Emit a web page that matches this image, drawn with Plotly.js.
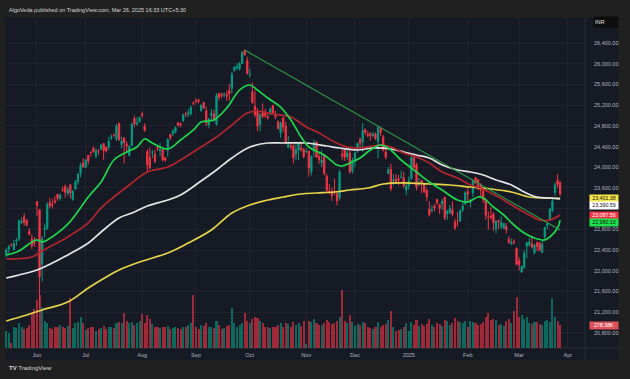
<!DOCTYPE html>
<html><head><meta charset="utf-8">
<script src="https://cdn.plot.ly/plotly-3.0.1.min.js"></script>
<style>html,body{margin:0;padding:0;background:#202020;}#chart{width:630px;height:379px;}</style>
</head><body><div id="chart"></div>
<script>
// ---- Bar index ticks (trading days) ----
const monthTickIdx = [12,31,53,74,95,117,136,157,180,200,219];
const monthTickText = ["Jun","Jul","Aug","Sep","Oct","Nov","Dec","2025","Feb","Mar","Apr"];
const priceTicks = [20800,21200,21600,22000,22400,22800,23200,23600,24000,24400,24800,25200,25600,26000,26400];
// tick hidden behind the price labels on the scale
const hiddenTick = 23200;

// ---- OHLC (daily, 16 May 2024 – 26 Mar 2025) ----
const openP = [
22300,22415,22513,22405,22576,22614,22931,23038,22977,22763,22618,22568,
23337,23179,22128,22798,22821,23319,23283,23345,23480,23399,23570,23629,23499,23661,23382,23578,23723,23881,24085,
23993,24229,24291,24369,24213,24330,24351,24459,24387,24388,24573,24615,24544,24854,24445,24568,24445,24231,24424,24943,24839,24887,
25030,24789,24302,24189,24289,24248,24386,24321,24342,24184,24334,24637,24648,24680,24864,24846,24906,25025,25030,25035,25250,
25283,25301,25089,25250,25093,24823,24999,25035,24837,25430,25406,25416,25402,25487,25526,25872,25921,25899,26005,26248,26061,
25788,25453,25181,25085,24832,25066,25067,24985,25023,25186,25008,24882,24664,24956,24798,24379,24412,24418,24252,24328,24371,24349,
24302,24316,23917,24308,24489,24207,24087,24225,23822,23543,23533,23529,23488,23412,24253,24340,24205,24274,23927,
24141,24368,24539,24489,24729,24633,24652,24615,24642,24498,24753,24584,24297,23877,23960,23739,23770,23775,23801,23796,23560,
23638,23783,24196,24045,23679,23746,23674,23551,23195,23165,23250,23377,23277,23290,23421,23099,23128,23183,22941,22961,22961,23169,23297,
23528,23319,23509,23802,23761,23649,23543,23384,23050,23055,23097,22809,22963,22847,22821,22857,22609,22516,22568,22433,
22194,21974,22073,22476,22508,22521,22345,22537,22541,22353,22662,22874,22981,23168,23515,23751,23700];
const highP = [
22432,22502,22525,22591,22630,22993,23026,23111,22998,22825,22705,22653,
23338,23179,22670,22910,23320,23411,23389,23441,23481,23490,23630,23665,23624,23668,23558,23754,23889,24087,24174,
24164,24236,24309,24401,24364,24345,24443,24461,24402,24592,24636,24662,24837,24855,24595,24582,24504,24426,24861,24999,24971,24984,
25078,24851,24350,24382,24337,24340,24419,24473,24359,24196,24563,24638,24734,24787,24867,24858,25043,25074,25129,25192,25268,
25333,25321,25217,25261,25168,24957,25130,25113,25434,25433,25445,25441,25482,25611,25849,25957,26011,26033,26251,26277,26135,
25907,25639,25485,25144,25044,25234,25135,25028,25159,25212,25093,24907,24886,24978,24882,24605,24480,24441,24493,24485,24499,24372,
24368,24317,24229,24537,24503,24276,24336,24243,23873,23675,23606,23781,23507,23956,24351,24343,24354,24345,24188,
24301,24481,24574,24857,24751,24705,24677,24691,24675,24793,24781,24624,24394,24005,24066,23869,23867,23854,23938,23915,23690,
23822,24226,24196,24089,23795,23751,23689,23596,23340,23264,23293,23391,23292,23391,23426,23170,23270,23347,23008,23137,23184,23323,23546,
23632,23381,23762,23807,23773,23694,23568,23390,23144,23235,23133,22974,22992,23050,22923,22922,22668,22625,22613,22450,
22261,22106,22395,22556,22633,22677,22522,22578,22558,22577,22857,22941,23216,23402,23709,23869,23737];
const lowP = [
22262,22345,22470,22404,22483,22577,22908,22871,22858,22685,22417,22465,
23062,21281,21791,22642,22789,23207,23206,23295,23354,23353,23528,23413,23450,23398,23351,23563,23670,23806,23985,
23993,24056,24207,24281,24168,24240,24331,24142,24285,24331,24522,24587,24505,24508,24362,24074,24307,24211,24410,24774,24799,24856,
24956,24686,23893,23960,24184,24079,24311,24213,24116,24099,24205,24522,24607,24654,24784,24771,24874,24973,24965,24998,25199,
25235,25235,25083,25130,24801,24753,24896,24885,24802,25293,25336,25352,25286,25286,25426,25847,25886,25871,25998,26152,25794,
25739,25230,24967,24695,24694,24947,24956,24920,25017,25008,24929,24728,24567,24679,24446,24378,24341,24074,24140,24141,24307,24172,
24280,23817,23843,24204,24179,24066,24004,23839,23509,23484,23350,23464,23263,23359,24135,24125,24145,23874,23874,
24008,24280,24366,24295,24620,24580,24511,24583,24527,24180,24601,24303,24150,23870,23538,23647,23685,23654,23800,23599,23460,
23562,23751,23976,23551,23637,23497,23503,23344,23047,23134,23146,23273,23100,23170,22977,22981,23090,23050,22786,22857,22944,23140,23271,
23318,23222,23424,23680,23556,23443,23316,22986,22798,22992,22774,22725,22801,22814,22812,22720,22518,22513,22508,22104,
22005,21964,22035,22245,22464,22429,22315,22377,22377,22353,22599,22806,22973,23132,23451,23601,23452];
const closeP = [
22403,22466,22502,22529,22597,22967,22957,22932,22888,22704,22488,22531,
23264,21884,22620,22821,23290,23259,23264,23323,23399,23465,23557,23516,23567,23501,23538,23721,23868,24044,24010,
24141,24124,24286,24302,24323,24320,24433,24324,24316,24502,24587,24613,24801,24531,24509,24479,24414,24406,24835,24836,24857,24951,
25011,24718,24056,23993,24297,24117,24368,24347,24139,24144,24541,24573,24698,24770,24811,24823,25010,25017,25052,25151,25236,
25279,25279,25198,25145,24852,24936,25041,24918,25389,25357,25383,25418,25377,25416,25791,25939,25940,26004,26216,26179,25811,
25797,25250,25015,24796,25013,24982,24998,24964,25128,25057,24971,24750,24854,24781,24472,24435,24399,24181,24339,24467,24341,24205,
24304,23995,24213,24484,24199,24148,24141,23883,23559,23532,23453,23518,23349,23907,24222,24194,24275,23914,24131,
24276,24457,24467,24708,24677,24619,24610,24641,24549,24768,24668,24336,24198,23952,23587,23753,23727,23750,23813,23645,23644,
23742,24188,24004,23616,23707,23688,23526,23431,23085,23176,23213,23311,23203,23344,23025,23155,23205,23092,22829,22957,23163,23249,23508,
23482,23361,23739,23696,23603,23560,23381,23071,23045,23031,22929,22959,22945,22933,22913,22796,22553,22547,22545,22125,
22119,22083,22337,22545,22552,22460,22497,22470,22397,22509,22834,22907,23190,23350,23658,23668,23486];
// volume, thousands
const volumeK = [
210,180,60,250,240,300,260,230,240,280,420,470,
580,640,500,330,300,240,230,260,250,280,260,240,270,610,240,300,320,380,300,
220,240,260,250,210,230,240,270,230,260,250,240,300,320,300,420,330,300,320,280,300,330,
410,300,400,350,290,260,250,240,260,250,270,230,240,250,240,230,260,250,280,300,640,
260,230,280,270,300,250,260,240,330,280,230,240,270,280,480,300,250,280,300,420,330,
300,350,380,360,330,300,260,250,240,260,250,280,300,260,300,290,260,310,280,300,270,330,
50,330,310,350,300,280,280,300,340,310,290,300,330,380,700,330,300,400,320,
270,290,280,320,300,250,240,230,250,320,250,280,290,340,450,250,210,220,230,260,300,
200,320,280,340,270,290,270,290,350,280,260,300,290,270,340,330,280,300,360,330,310,300,330,
250,330,320,300,280,290,320,380,420,340,350,340,280,290,270,330,350,300,450,620,
380,400,350,370,300,290,320,310,290,280,330,340,320,600,380,330,278.38];

// ---- Moving averages ----
const ma20Idx = [0,5,10,12,14,16,24,32,37,42,47,51,54,57,63,68,73,76,81,86,91,95,98,102,107,111,115,118,124,129,131,134,138,142,146,149,154,160,165,170,176,180,184,186,190,194,198,202,206,210,212,215,216];
const ma20Val = [22306,22383,22557,22596,22557,22596,22900,23426,23716,24141,24296,24392,24547,24469,24353,24527,24721,24875,24914,25146,25493,25590,25493,25339,25165,24914,24585,24392,24238,24044,24025,24083,24180,24334,24431,24373,24141,23909,23716,23561,23368,23330,23426,23407,23233,23078,22885,22731,22634,22596,22653,22827,22980];
const ma50Idx = [0,10,14,24,32,37,42,49,55,63,68,76,82,88,94,98,104,111,117,122,128,133,138,143,147,151,155,160,165,170,176,181,185,189,194,199,204,208,212,216];
const ma50Val = [22228,22267,22383,22653,22924,23214,23426,23697,23909,24006,24141,24392,24585,24817,25049,25088,25030,24972,24779,24663,24489,24392,24373,24411,24431,24373,24276,24199,24083,23909,23793,23658,23600,23503,23368,23214,23078,22982,22982,23078];
const ma100Idx = [0,5,13,24,32,37,44,49,55,63,68,76,82,88,95,102,108,117,125,130,137,143,150,155,160,165,170,176,181,186,191,197,202,207,212,216];
const ma100Val = [21861,21919,22035,22306,22537,22750,23020,23117,23252,23368,23465,23735,23948,24180,24392,24469,24469,24469,24411,24373,24334,24373,24353,24296,24238,24180,24044,23948,23909,23851,23755,23658,23523,23426,23407,23391];
const ma200Idx = [0,8,14,24,32,39,44,52,63,71,80,88,95,102,108,115,121,128,134,141,147,154,165,173,181,189,197,204,209,216];
const ma200Val = [21030,21146,21243,21397,21668,21881,22016,22170,22344,22537,22788,23117,23272,23368,23426,23484,23503,23523,23561,23600,23677,23697,23677,23658,23619,23581,23523,23426,23407,23401];

// trend line drawn on the chart
const trendIdx = [93, 216];
const trendVal = [26265, 22790];

// price labels on scale
const labelTexts = ["23,401.38","23,390.59","23,087.56","22,980.10","278.38K"];

const idx = closeP.map((_, i) => i);
const UP = '#089981', DN = '#f23645';
const volColors = closeP.map((c, i) => c >= openP[i] ? 'rgba(8,153,129,0.62)' : 'rgba(242,54,69,0.62)');

const traces = [
  {type:'bar', x: idx, y: volumeK, marker:{color: volColors, line:{width:0}}, width:0.8, yaxis:'y', xaxis:'x', hoverinfo:'skip'},
  {type:'scatter', mode:'lines', x: ma200Idx, y: ma200Val, yaxis:'y2', line:{color:'#e5d54a', width:1.7, shape:'spline'}},
  {type:'scatter', mode:'lines', x: ma100Idx, y: ma100Val, yaxis:'y2', line:{color:'#e4e4e4', width:1.7, shape:'spline'}},
  {type:'scatter', mode:'lines', x: ma50Idx, y: ma50Val, yaxis:'y2', line:{color:'#b3262f', width:1.7, shape:'spline'}},
  {type:'candlestick', x: idx, open: openP, high: highP, low: lowP, close: closeP, yaxis:'y2',
   increasing:{line:{color:UP, width:1}, fillcolor:UP}, decreasing:{line:{color:DN, width:1}, fillcolor:DN}, whiskerwidth:0},
  {type:'scatter', mode:'lines', x: ma20Idx, y: ma20Val, yaxis:'y2', line:{color:'#1fd64c', width:1.7, shape:'spline'}},
  {type:'scatter', mode:'lines', x: trendIdx, y: trendVal, yaxis:'y2', line:{color:'#2e9d48', width:1.1}}
];

const tickFont = {family:'Liberation Sans, Arial, sans-serif', size:5.5, color:'#b2b5be'};
const gridC = 'rgba(255,255,255,0.045)';
const priceTickText = priceTicks.map(v => v === hiddenTick ? '' : v.toLocaleString('en-US',{minimumFractionDigits:2, maximumFractionDigits:2}));

function lab(text, ypx, bg, fg) {
  return {xref:'paper', yref:'paper', x:1.0075, y:(348-ypx)/330, xanchor:'left', yanchor:'middle',
    text:text, showarrow:false, bgcolor:bg, borderpad:0, width:28, height:6.5, align:'center',
    font:{family:'Liberation Sans, Arial, sans-serif', size:5.3, color:fg}};
}

const layout = {
  width:630, height:379,
  margin:{l:5, r:45, t:18, b:31, pad:0},
  paper_bgcolor:'#202020', plot_bgcolor:'#161a25',
  showlegend:false, bargap:0,
  font:{family:'Liberation Sans, Arial, sans-serif'},
  xaxis:{range:[-0.47, 225.7], tickmode:'array', tickvals: monthTickIdx, ticktext: monthTickText,
    showgrid:true, gridcolor:gridC, zeroline:false, showline:false, ticks:'', tickfont:tickFont,
    rangeslider:{visible:false}, fixedrange:true, ticklabelstandoff:2},
  yaxis:{range:[0, 3994], visible:false, showgrid:false, zeroline:false, fixedrange:true},
  yaxis2:{overlaying:'y', side:'right', range:[20508, 26885], tickmode:'array', tickvals: priceTicks, ticktext: priceTickText,
    showgrid:true, gridcolor:gridC, zeroline:false, showline:false, ticks:'', tickfont:tickFont, fixedrange:true, ticklabelstandoff:8},
  shapes:[
    {type:'rect', xref:'paper', yref:'paper', x0:0, x1:1.0569, y0:-0.0364, y1:1, fillcolor:'#161a25', line:{width:0}, layer:'below'},
    {type:'line', xref:'paper', yref:'paper', x0:1, x1:1, y0:-0.0364, y1:1, line:{color:'#252a36', width:1}, layer:'below'},
    {type:'line', xref:'paper', yref:'paper', x0:0, x1:1.0569, y0:0, y1:0, line:{color:'#252a36', width:1}, layer:'below'}
  ],
  annotations:[
    {xref:'paper', yref:'paper', x:0.0034, y:(348-10)/330, xanchor:'left', yanchor:'middle', showarrow:false,
     text:'AlgoVeda published on TradingView.com, Mar 26, 2025 16:33 UTC+5:30', font:{family:'Liberation Sans, Arial, sans-serif', size:5.5, color:'#d8d8d8'}},
    {xref:'paper', yref:'paper', x:0.0034, y:(348-368)/330, xanchor:'left', yanchor:'middle', showarrow:false,
     text:'<b>TV</b> TradingView', font:{family:'Liberation Sans, Arial, sans-serif', size:6, color:'#d8d8d8'}},
    {xref:'paper', yref:'paper', x:1.0138, y:(348-22)/330, xanchor:'left', yanchor:'middle', showarrow:false,
     text:'INR', bgcolor:'#0d0d0d', borderpad:1, width:22, height:8, align:'left', font:{family:'Liberation Sans, Arial, sans-serif', size:5.5, color:'#e0e0e0'}},
    lab(labelTexts[0], 198, '#f5e64a', '#111111'),
    lab(labelTexts[1], 205.5, '#ffffff', '#111111'),
    lab(labelTexts[2], 215.5, '#f23645', '#ffffff'),
    lab(labelTexts[3], 222.5, '#1fe04e', '#111111'),
    lab(labelTexts[4], 325, '#e0505a', '#ffffff')
  ]
};

Plotly.newPlot('chart', traces, layout, {staticPlot:true, displayModeBar:false});
</script></body></html>
